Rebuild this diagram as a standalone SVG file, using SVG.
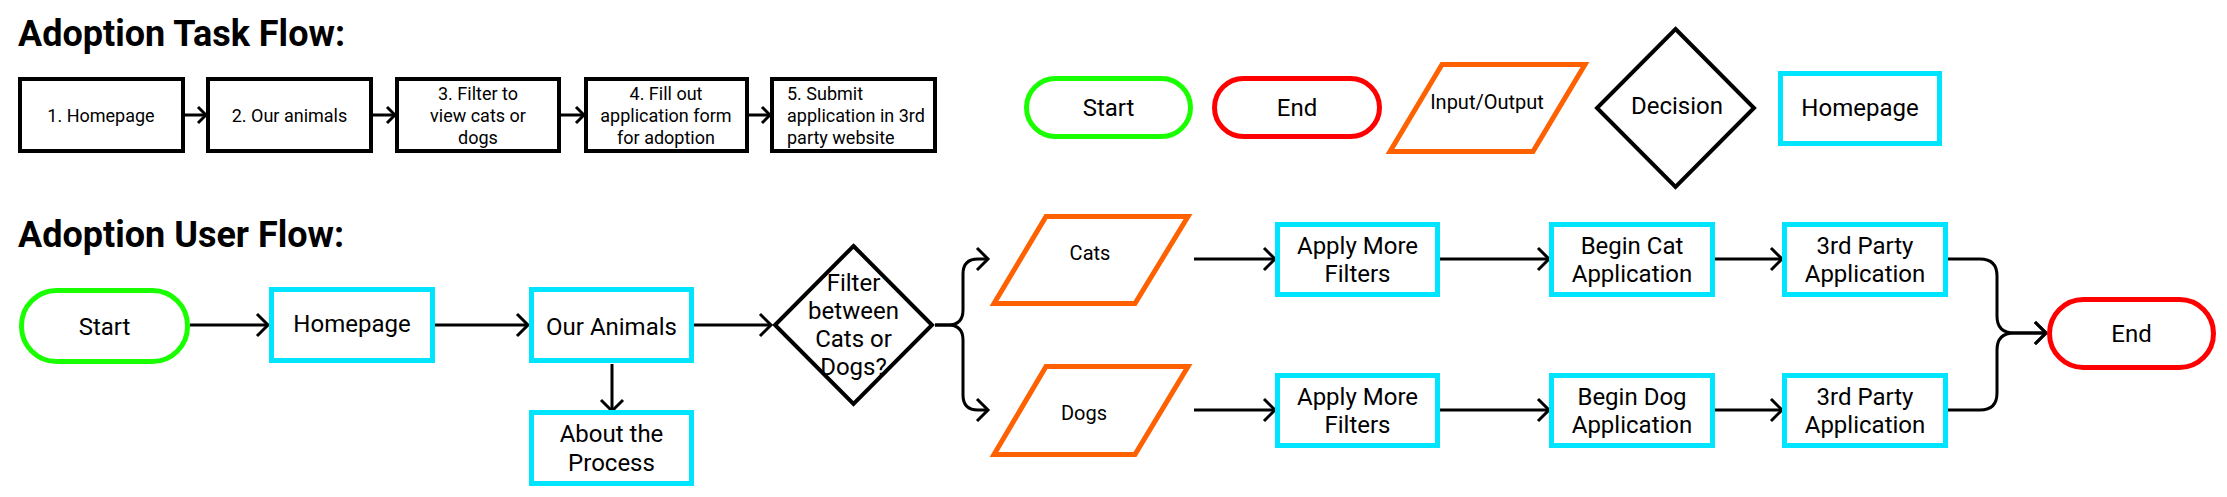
<svg xmlns="http://www.w3.org/2000/svg" width="2227" height="497" viewBox="0 0 2227 497">
<style>
text{font-family:Roboto,"Liberation Sans",sans-serif;fill:#000;text-anchor:middle}
.title{font-size:36px;font-weight:700;text-anchor:start}
.t18{font-size:18px}
.t24{font-size:24px}
.t20{font-size:20px}
.task{fill:#fff;stroke:#000;stroke-width:4}
.page{fill:#fff;stroke:#00e5ff;stroke-width:5}
.start{fill:#fff;stroke:#1aff00;stroke-width:5}
.end{fill:#fff;stroke:#ff0000;stroke-width:5}
.io{fill:#fff;stroke:#ff6000;stroke-width:5;stroke-linejoin:miter}
.dec{fill:#fff;stroke:#000;stroke-width:4}
.conn path{fill:none;stroke:#000;stroke-width:3}
.sm{marker-end:url(#arrS)}
.lg{marker-end:url(#arrL)}
</style>
<defs>
<marker id="arrS" markerUnits="userSpaceOnUse" viewBox="-12 -11 14 22" markerWidth="14" markerHeight="22" refX="0" refY="0" orient="auto">
<path d="M-8,-8 L0,0 L-8,8" fill="none" stroke="#000" stroke-width="3"/>
</marker>
<marker id="arrL" markerUnits="userSpaceOnUse" viewBox="-15 -14 18 28" markerWidth="18" markerHeight="28" refX="0" refY="0" orient="auto">
<path d="M-11,-11 L0,0 L-11,11" fill="none" stroke="#000" stroke-width="3"/>
</marker>
</defs>
<rect width="2227" height="497" fill="#fff"/>

<text class="title" x="18" y="46">Adoption Task Flow:</text>
<text class="title" x="18" y="247">Adoption User Flow:</text>

<g class="conn" id="connectors">
<path class="sm" d="M185,115 H206"/>
<path class="sm" d="M373,115 H395"/>
<path class="sm" d="M561,115 H584"/>
<path class="sm" d="M749,115 H770"/>
<path class="lg" d="M190,325 H268"/>
<path class="lg" d="M435,325 H528"/>
<path class="lg" d="M612,364 V411"/>
<path class="lg" d="M694,325 H771"/>
<path class="lg" d="M935,325 H948 Q963,325 963,310 V274 Q963,259 978,259 H988"/>
<path class="lg" d="M935,325 H948 Q963,325 963,340 V395 Q963,410 978,410 H988"/>
<path class="lg" d="M1194,259 H1275"/>
<path class="lg" d="M1194,410 H1275"/>
<path class="lg" d="M1440,259 H1549"/>
<path class="lg" d="M1440,410 H1549"/>
<path class="lg" d="M1715,259 H1782"/>
<path class="lg" d="M1715,410 H1782"/>
<path class="lg" d="M1948,259 H1980 Q1997,259 1997,276 V316 Q1997,333 2014,333 H2046"/>
<path class="lg" d="M1948,410 H1980 Q1997,410 1997,393 V350 Q1997,333 2014,333 H2046"/>
</g>

<g id="task1"><rect class="task" x="20" y="79" width="163" height="72"/><text class="t18" x="101" y="121.5">1. Homepage</text></g>
<g id="task2"><rect class="task" x="208" y="79" width="163" height="72"/><text class="t18" x="289.5" y="121.5">2. Our animals</text></g>
<g id="task3"><rect class="task" x="397" y="79" width="162" height="72"/><text class="t18" x="478" y="99.5">3. Filter to</text><text class="t18" x="478" y="121.5">view cats or</text><text class="t18" x="478" y="143.5">dogs</text></g>
<g id="task4"><rect class="task" x="586" y="79" width="161" height="72"/><text class="t18" x="666" y="99.5">4. Fill out</text><text class="t18" x="666" y="121.5">application form</text><text class="t18" x="666" y="143.5">for adoption</text></g>
<g id="task5"><rect class="task" x="772" y="79" width="163" height="72"/><text class="t18" x="787" y="99.5" style="text-anchor:start">5. Submit</text><text class="t18" x="787" y="121.5" style="text-anchor:start">application in 3rd</text><text class="t18" x="787" y="143.5" style="text-anchor:start">party website</text></g>

<g id="legend-start"><rect class="start" x="1026.5" y="78.5" width="164" height="58" rx="29"/><text class="t24" x="1108.5" y="116">Start</text></g>
<g id="legend-end"><rect class="end" x="1214.5" y="78.5" width="165" height="58" rx="29"/><text class="t24" x="1297" y="116">End</text></g>
<g id="legend-io"><path class="io" d="M1442,64.5 H1585 L1533,151.5 H1390 Z"/><text class="t20" x="1487" y="109">Input/Output</text></g>
<g id="legend-decision"><path class="dec" d="M1675.5,29 L1754,108 L1675.5,187 L1597,108 Z"/><text class="t24" x="1677" y="114">Decision</text></g>
<g id="legend-page"><rect class="page" x="1780.5" y="73.5" width="159" height="70"/><text class="t24" x="1860" y="116">Homepage</text></g>

<g id="start"><rect class="start" x="21.5" y="290.5" width="166" height="71" rx="35"/><text class="t24" x="104.5" y="334.5">Start</text></g>
<g id="homepage"><rect class="page" x="271.5" y="289.5" width="161" height="71"/><text class="t24" x="352" y="331.5">Homepage</text></g>
<g id="our-animals"><rect class="page" x="531.5" y="289.5" width="160" height="71"/><text class="t24" x="611.5" y="334.5">Our Animals</text></g>
<g id="about"><rect class="page" x="531.5" y="412.5" width="160" height="71"/><text class="t24" x="611.5" y="442">About the</text><text class="t24" x="611.5" y="470.5">Process</text></g>
<g id="filter-decision"><path class="dec" d="M853.5,246 L932,325 L853.5,404 L775,325 Z"/><text class="t24" x="853.5" y="291">Filter</text><text class="t24" x="853.5" y="319">between</text><text class="t24" x="853.5" y="347">Cats or</text><text class="t24" x="853.5" y="375">Dogs?</text></g>
<g id="cats"><path class="io" d="M1046,216.5 H1188 L1135,303.5 H994 Z"/><text class="t20" x="1090" y="260">Cats</text></g>
<g id="dogs"><path class="io" d="M1046,366.5 H1188 L1135,454.5 H994 Z"/><text class="t20" x="1084" y="420">Dogs</text></g>
<g id="apply-cat"><rect class="page" x="1277.5" y="224.5" width="160" height="70"/><text class="t24" x="1357.5" y="254">Apply More</text><text class="t24" x="1357.5" y="282">Filters</text></g>
<g id="apply-dog"><rect class="page" x="1277.5" y="375.5" width="160" height="70"/><text class="t24" x="1357.5" y="405">Apply More</text><text class="t24" x="1357.5" y="433">Filters</text></g>
<g id="begin-cat"><rect class="page" x="1551.5" y="224.5" width="161" height="70"/><text class="t24" x="1632" y="254">Begin Cat</text><text class="t24" x="1632" y="282">Application</text></g>
<g id="begin-dog"><rect class="page" x="1551.5" y="375.5" width="161" height="70"/><text class="t24" x="1632" y="405">Begin Dog</text><text class="t24" x="1632" y="433">Application</text></g>
<g id="third-cat"><rect class="page" x="1784.5" y="224.5" width="161" height="70"/><text class="t24" x="1865" y="254">3rd Party</text><text class="t24" x="1865" y="282">Application</text></g>
<g id="third-dog"><rect class="page" x="1784.5" y="375.5" width="161" height="70"/><text class="t24" x="1865" y="405">3rd Party</text><text class="t24" x="1865" y="433">Application</text></g>
<g id="end"><rect class="end" x="2049.5" y="299.5" width="164" height="68" rx="34"/><text class="t24" x="2131.5" y="342">End</text></g>
</svg>
